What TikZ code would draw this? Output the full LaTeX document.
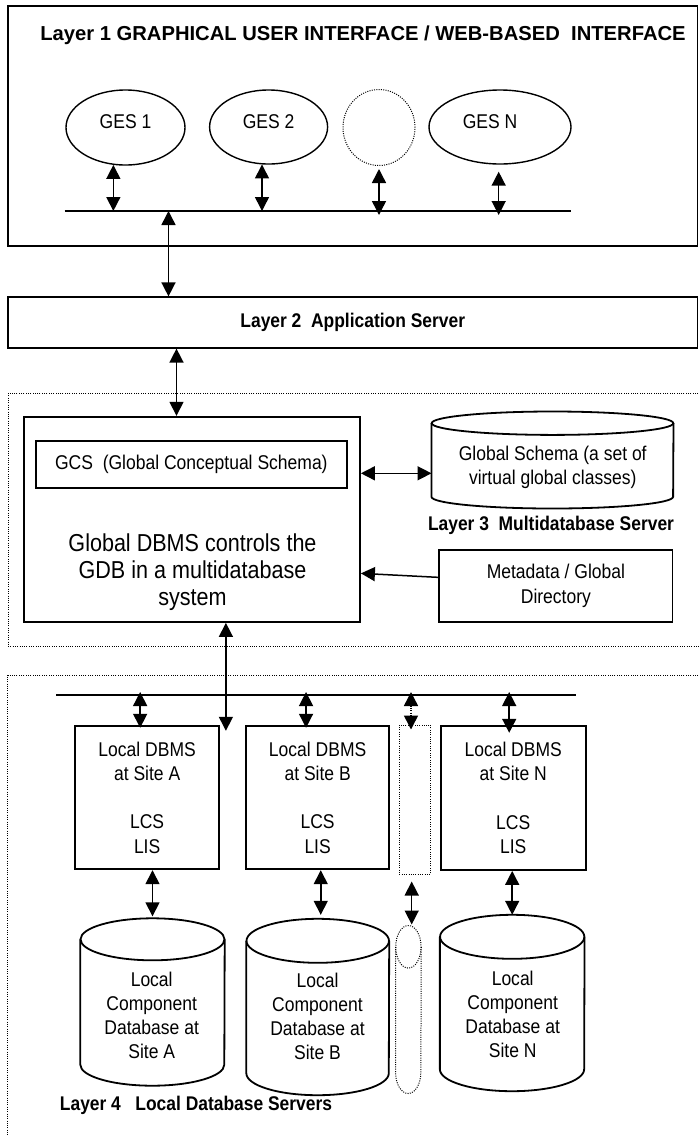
\documentclass[tikz,border=0pt]{standalone}
\usepackage{fontspec}
\setmainfont{Liberation Sans}[FakeStretch=0.88]
\newfontfamily\titlefont{Liberation Sans}
\usetikzlibrary{calc,arrows.meta,shapes.geometric}
\def\dbcan[#1](#2)(#3:#4){\draw[#1] ($(#2.north west)+(0,#4)$) -- ($(#2.south west)-(0,#4)$) arc (180:0:#3 and #4) -- ($(#2.north east)+(0,#4)$); \draw[#1] ($(#2.north)+(0,#4)$) ellipse (#3 and #4);}

\begin{document}
\begin{tikzpicture}[x=1pt, y=-1pt,
    boxline/.style={draw, line width=1.8pt, inner sep=0pt},
    dotline/.style={line width=1pt, dash pattern=on 1pt off 1.3pt},
    dotbox/.style={draw, dotline, inner sep=0pt},
    busline/.style={line width=1.6pt},
    canline/.style={line width=1.8pt},
    canbody/.style={rectangle, inner sep=0pt},
    ges/.style={ellipse, draw, line width=1.4pt, inner sep=0pt, text height=14.3pt, text depth=12pt, txt},
    twohead/.style={line width=1.5pt, {Triangle[width=14pt,length=14pt]}-{Triangle[width=14pt,length=14pt]}},
    onehead/.style={line width=1.5pt, -{Triangle[width=14pt,length=14pt]}},
    txt/.style={font=\fontsize{19.9}{24.3}\selectfont, align=center, inner sep=0pt},
    cantxt/.style={font=\fontsize{19.9}{24}\selectfont, align=center, inner sep=0pt},
    bigtxt/.style={font=\fontsize{24.5}{26.7}\selectfont, align=center, inner sep=0pt},
    bold/.style={font=\fontsize{19.8}{21}\selectfont\bfseries, inner sep=0pt}]

\useasboundingbox (0,0) rectangle (699,1136);

%%%%% LAYER 1 %%%%%
\node[boxline, minimum width=689.5, minimum height=240] (ui) at (352.75,126) {};
\node[inner sep=0pt, font=\titlefont\fontsize{20.2}{24}\selectfont\bfseries] (uititle) at (363,35) {Layer 1 GRAPHICAL USER INTERFACE / WEB-BASED\ \ INTERFACE};

\node[ges, minimum width=119, minimum height=75] (ges1) at (125.5,127.5) {GES 1};
\node[ges, minimum width=118, minimum height=74] (ges2) at (268.6,127) {GES 2};
\node[ges, dotline, minimum width=72, minimum height=76] (gesd) at (379,127.5) {};
\node[ges, minimum width=142, minimum height=74] (gesn) at (500,127) {GES N\hspace*{20pt}};

\coordinate (bus1w) at (64.6,211);
\coordinate (bus1e) at (570.7,211);
\draw[busline] (bus1w) -- (bus1e);

\draw[twohead] (ges1.252) -- (ges1.252 |- bus1w);
\draw[twohead] (ges2.260) -- (ges2.260 |- bus1w);
\draw[twohead, shorten <=3pt, shorten >=-4pt] (gesd.south) -- (gesd.south |- bus1w);
\draw[twohead, shorten <=7pt, shorten >=-4pt] (gesn.268) -- (gesn.268 |- bus1w);

%%%%% LAYER 2 %%%%%
\node[boxline, bold, minimum width=689.5, minimum height=50.4] (app) at (352.75,322.5) {Layer 2\ \ Application Server};

\coordinate (bus1tap) at (168.5,211);
\draw[twohead] (bus1tap) -- (bus1tap |- app.north);

%%%%% LAYER 3 %%%%%
\draw[dotline] (712,393.3) -| (8,646) -- (712,646);

\node[boxline, minimum width=336, minimum height=205.3] (gdbms) at (192,519.35) {};
\node[boxline, txt, minimum width=310.7, minimum height=47.3] (gcs) at (191.35,464.65) {GCS\ \ (Global Conceptual Schema)};
\node[bigtxt] (gdbmstxt) at (192.5,572) {Global DBMS controls the\\GDB in a multidatabase\\system};

\node[canbody, minimum width=241.6, minimum height=96.6] (gschema) at (552.5,460) {};
\dbcan[canline](gschema)(120.8:11.7);
\node[txt] (gschematxt) at (552.7,467.5) {Global Schema (a set of\\virtual global classes)};

\node[bold] (l3label) at (551,525) {Layer 3\ \ Multidatabase Server};
\node[boxline, txt, minimum width=233.2, minimum height=71.7] (meta) at (555.9,585.85) {Metadata / Global\\Directory};

\coordinate (gsy) at (0,473.3);
\draw[twohead] (gdbms.east |- gsy) -- (gschema.west |- gsy);
\draw[onehead] ($(meta.west)+(0,-8.5)$) -- ($(gdbms.east)+(0,54)$);

\coordinate (gdbtap) at ($(gdbms.north)+(-15.5,0)$);
\draw[twohead] (gdbtap |- app.south) -- (gdbtap);

%%%%% LAYER 4 %%%%%
\draw[dotline] (712,675) -| (7.5,1150);

\coordinate (bus2w) at (56,695);
\coordinate (bus2e) at (576,695);
\draw[busline] (bus2w) -- (bus2e);

\node[boxline, txt, minimum width=144.3, minimum height=143.6] (siteA) at (147.15,797.5) {Local DBMS\\at Site A\\[24pt]LCS\\LIS};
\node[boxline, txt, minimum width=143.3, minimum height=143.6] (siteB) at (317.65,797.5) {Local DBMS\\at Site B\\[24pt]LCS\\LIS};
\node[dotbox, minimum width=31.4, minimum height=149] (siteD) at (415,799.5) {};
\node[boxline, txt, minimum width=145, minimum height=144.3] (siteN) at (513.2,797.85) {Local DBMS\\at Site N\\[24pt]LCS\\LIS};

\coordinate (atap) at ($(siteA.north east)+(5.7,6)$);
\draw[twohead] (atap |- gdbms.south) -- (atap);

\coordinate (tapA) at ($(siteA.north)+(-7,3)$);
\coordinate (tapB) at ($(siteB.north)+(-11.6,3)$);
\coordinate (tapD) at ($(siteD.north)+(-4,5)$);
\coordinate (tapN) at ($(siteN.north)+(-4,8)$);
\draw[twohead, shorten <=-3pt] (tapA |- bus2w) -- (tapA);
\draw[twohead, shorten <=-3pt] (tapB |- bus2w) -- (tapB);
\draw[twohead, dotline, line width=1.5pt, shorten <=-3pt] (tapD |- bus2w) -- (tapD);
\draw[twohead, shorten <=-3pt] (tapN |- bus2w) -- (tapN);

\node[canbody, minimum width=144, minimum height=167] (cylA) at (152.5,1002) {};
\node[canbody, minimum width=142.5, minimum height=176] (cylB) at (317.75,1007) {};
\node[canbody, minimum width=25.3, minimum height=167.6] (cylD) at (408.4,1009.5) {};
\node[canbody, minimum width=144.3, minimum height=176] (cylN) at (512.2,1003) {};
\dbcan[canline](cylA)(72:21);
\dbcan[canline](cylB)(71.25:22);
\dbcan[dotline](cylD)(12.65:21.3);
\dbcan[canline](cylN)(72.15:22);

\node[cantxt] (cylAtxt) at (151.7,1015.7) {Local\\Component\\Database at\\Site A};
\node[cantxt] (cylBtxt) at (317.5,1016.7) {Local\\Component\\Database at\\Site B};
\node[cantxt] (cylNtxt) at (512.7,1013.9) {Local\\Component\\Database at\\Site N};

\coordinate (cyltapB) at ($(cylB.north)+(3,0)$);
\coordinate (cyltapD) at ($(cylD.north)+(3.3,0)$);
\draw[twohead, shorten >=2pt] (cylA.north |- siteA.south) -- (cylA.north);
\draw[twohead, shorten >=4pt] (cyltapB |- siteB.south) -- (cyltapB);
\draw[twohead, shorten <=7pt, shorten >=1pt] (cyltapD |- siteD.south) -- (cyltapD);
\draw[twohead] (cylN.north |- siteN.south) -- (cylN.north);

\node[bold] (l4label) at (196,1105) {Layer 4\ \ \ Local Database Servers};
\end{tikzpicture}
\end{document}
